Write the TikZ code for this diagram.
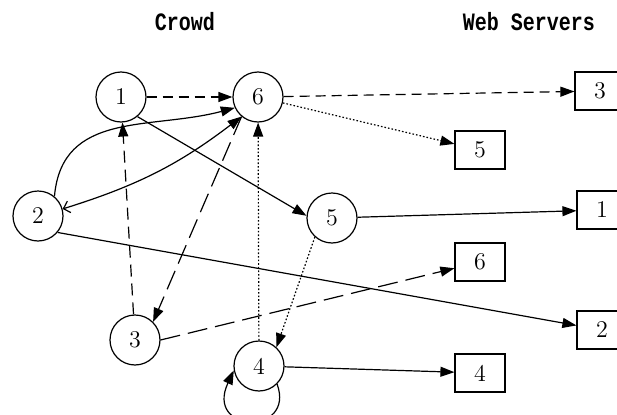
\documentclass[tikz,border=0pt]{standalone}
\usepackage{fontspec}
\newfontfamily\headfont{Liberation Mono}
\usepackage{tikz}
\usetikzlibrary{arrows.meta}

\begin{document}
\begin{tikzpicture}[x=0.5pt,y=0.5pt,line width=0.6pt,>={Triangle[length=7pt,width=5pt]},
    user/.style={draw,circle,minimum size=25pt,inner sep=0pt,font=\large},
    server/.style={draw,minimum width=25pt,minimum height=19pt,inner sep=0pt,font=\large},
    heading/.style={font=\headfont\bfseries},
    shortdash/.style={dash pattern=on 5pt off 3pt},
    middash/.style={dash pattern=on 6pt off 3.5pt},
    longdash/.style={dash pattern=on 10pt off 4pt},
    dots/.style={dash pattern=on 0.8pt off 1pt}]
    \clip (0,0) rectangle (617,414);
    % column titles
    \node[heading] (crowdlbl) at (185,392) {\scalebox{1}[1.25]{Crowd}};
    \node[heading] (weblbl) at (529,392) {\scalebox{1}[1.25]{Web Servers}};
    % crowd members
    \node[user] (c1) at (121,317) {1};
    \node[user] (c6) at (258,317) {6};
    \node[user] (c2) at (38,198) {2};
    \node[user] (c5) at (332,196) {5};
    \node[user] (c3) at (135,74) {3};
    \node[user] (c4) at (259,48) {4};
    % web servers
    \node[server] (s3) at (600,323) {3};
    \node[server] (s5) at (480,264) {5};
    \node[server] (s1) at (602,204) {1};
    \node[server] (s6) at (480,152) {6};
    \node[server] (s2) at (602,84) {2};
    \node[server] (s4) at (480,41) {4};
    % requests
    \draw[->,shortdash] (c1) -- (c6);
    \draw[->,shortdash] (c6) -- (s3);
    \draw[->,dots] (c6) -- (s5);
    \draw[->] (c1.-50) -- (c5.175);
    \draw[->] (c2.50) to[out=85,in=195,looseness=1.1] (c6.205);
    \draw[{Triangle[length=7pt,width=5pt]}-{Straight Barb[length=3pt,width=6pt]}] (c6.230) to[bend left=10] (c2);
    \draw[->] (c2.-40) -- (s2);
    \draw[->,middash] (c3) -- (c1);
    \draw[->,longdash] (c6.230) -- (c3.45);
    \draw[->,longdash] (c3.0) -- (s6);
    \draw[->,dots] (c4) -- (c6);
    \draw[->,dots] (c5.228) -- (c4.47);
    \draw[->] (c5) -- (s1);
    \draw[->] (c4) -- (s4);
    \draw[->] (c4.-45) .. controls +(-70:55) and +(-115:70) .. (c4.190);
\end{tikzpicture}
\end{document}
